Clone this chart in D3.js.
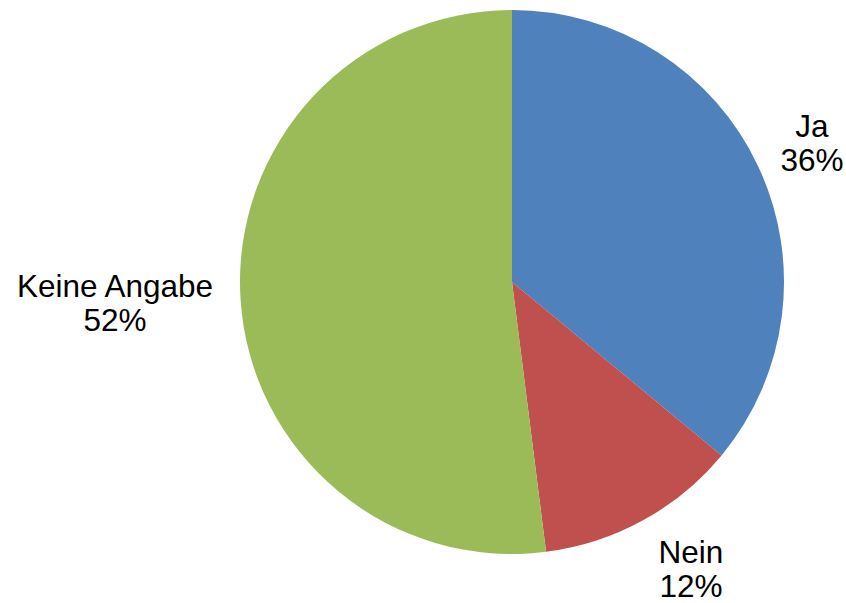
<!DOCTYPE html>
<html>
<head>
<meta charset="utf-8">
<script src="https://cdn.jsdelivr.net/npm/d3@7"></script>
<style>
  html, body { margin: 0; padding: 0; background: #fff; }
  svg { display: block; }
  text { font-family: "Liberation Sans", Arial, sans-serif; fill: #000; }
</style>
</head>
<body>
<svg id="chart" width="846" height="603"></svg>
<script>
const categories = ["Ja", "Nein", "Keine Angabe"];
const values = [36, 12, 52];
const colors = ["#4F81BD", "#C0504D", "#9BBB59"];
const labelPositions = [[812, 137], [691, 563], [115, 297]];

const svg = d3.select("#chart");
const cx = 512, cy = 282, r = 272;

const data = categories.map((c, i) => ({ cat: c, value: values[i], color: colors[i], pos: labelPositions[i] }));

const pie = d3.pie().value(d => d.value).sort(null);
const arc = d3.arc().innerRadius(0).outerRadius(r);

const g = svg.append("g").attr("transform", `translate(${cx},${cy})`);
g.selectAll("path")
  .data(pie(data))
  .join("path")
  .attr("d", arc)
  .attr("fill", d => d.data.color);

const total = d3.sum(values);
const labels = svg.selectAll("text.lbl")
  .data(data)
  .join("text")
  .attr("class", "lbl")
  .attr("text-anchor", "middle")
  .attr("font-size", 31.5);
labels.append("tspan")
  .attr("x", d => d.pos[0])
  .attr("y", d => d.pos[1])
  .text(d => d.cat);
labels.append("tspan")
  .attr("x", d => d.pos[0])
  .attr("y", d => d.pos[1] + 34)
  .text(d => Math.round(d.value / total * 100) + "%");
</script>
</body>
</html>
